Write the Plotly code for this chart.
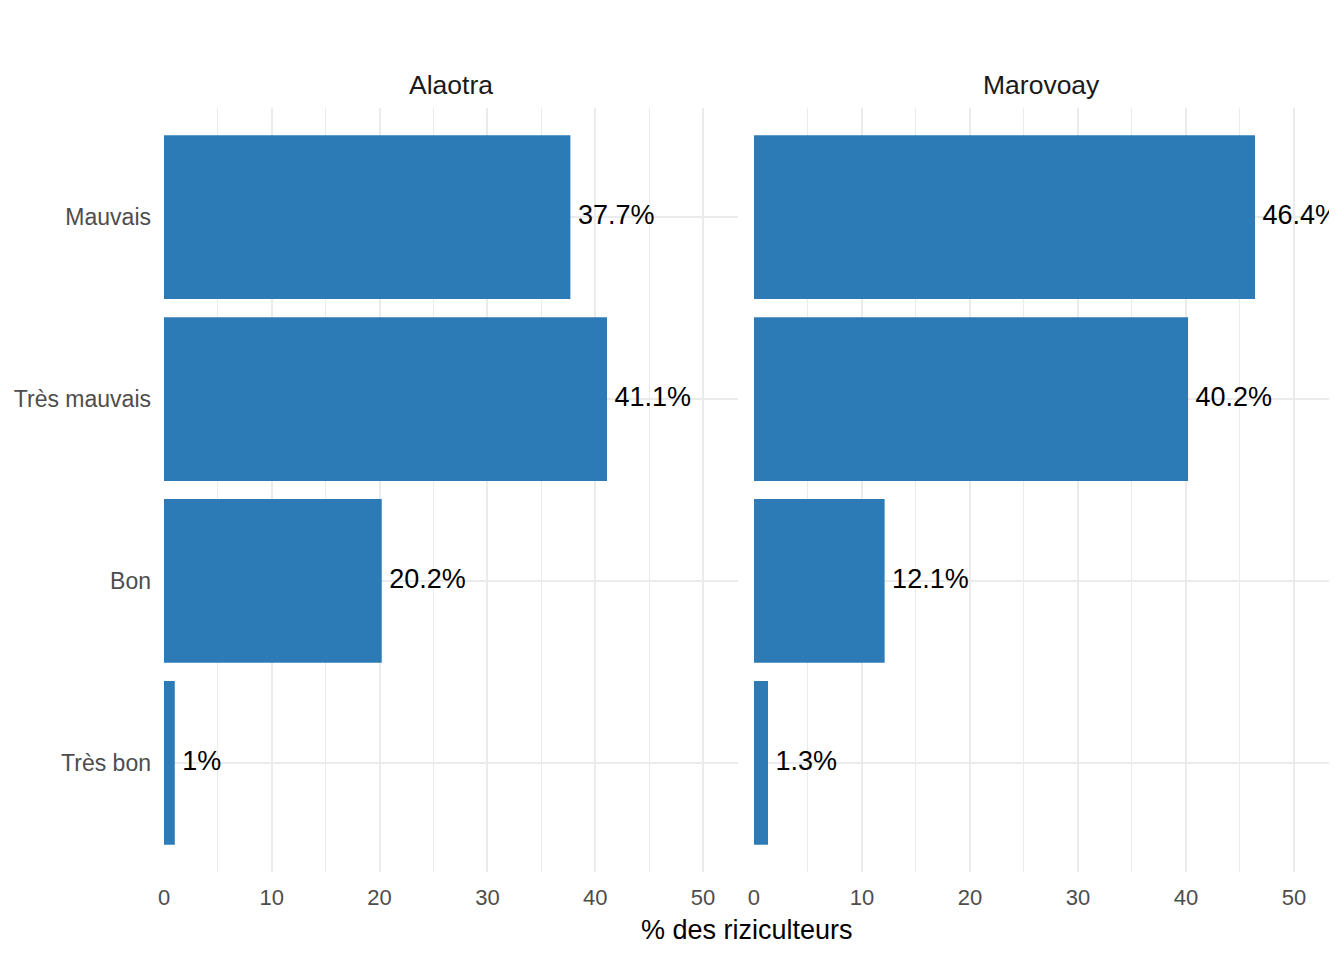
import plotly.graph_objects as go

categories = ["Mauvais", "Très mauvais", "Bon", "Très bon"]
regions = ["Alaotra", "Marovoay"]
alaotra_values = [37.7, 41.1, 20.2, 1.0]
marovoay_values = [46.4, 40.2, 12.1, 1.3]
alaotra_labels = ["37.7%", "41.1%", "20.2%", "1%"]
marovoay_labels = ["46.4%", "40.2%", "12.1%", "1.3%"]
x_ticks = [0, 10, 20, 30, 40, 50]

BAR = "#2C7BB6"
GRID = "#EBEBEB"
FONT = "Liberation Sans, Arial, sans-serif"

fig = go.Figure()
series = [(alaotra_values, alaotra_labels), (marovoay_values, marovoay_labels)]
for i, (vals, labs) in enumerate(series):
    xa = "x" if i == 0 else "x2"
    ya = "y" if i == 0 else "y2"
    fig.add_trace(go.Bar(x=vals, y=categories, orientation="h", width=0.9,
                         marker=dict(color=BAR, line=dict(width=0)),
                         xaxis=xa, yaxis=ya, showlegend=False, hoverinfo="skip"))
    fig.add_trace(go.Scatter(x=vals, y=categories, mode="text",
                             text=["\u00a0" + t for t in labs],
                             textposition="middle right",
                             textfont=dict(size=27, color="black", family=FONT),
                             cliponaxis=True, xaxis=xa, yaxis=ya,
                             showlegend=False, hoverinfo="skip"))

cat_order = list(reversed(categories))
xcommon = dict(range=[0, 53.25], tickvals=x_ticks, showgrid=True, gridcolor=GRID,
               gridwidth=2, zeroline=False, showline=False, ticks="",
               tickfont=dict(size=22, color="#4D4D4D", family=FONT),
               minor=dict(dtick=5, tick0=0, showgrid=True, gridcolor=GRID, gridwidth=1),
               ticklabelstandoff=10, automargin=False)
ycommon = dict(type="category", categoryorder="array", categoryarray=cat_order,
               range=[-0.6, 3.6], showgrid=True, gridcolor=GRID, gridwidth=2,
               zeroline=False, showline=False, ticks="", automargin=False)

fig.update_layout(
    width=1344, height=960,
    margin=dict(l=156, r=23, t=100, b=96),
    paper_bgcolor="white", plot_bgcolor="white",
    font=dict(family=FONT),
    xaxis=dict(domain=[0, 0.4927], anchor="y", **xcommon),
    xaxis2=dict(domain=[0.5064, 1], anchor="y2", **xcommon),
    yaxis=dict(anchor="x", tickfont=dict(size=23, color="#4D4D4D", family=FONT),
               ticklabelstandoff=12, **ycommon),
    yaxis2=dict(anchor="x2", showticklabels=False, **ycommon),
    bargap=0.1,
)

centers = [0.4927 / 2, (0.5064 + 1) / 2]
for c, name in zip(centers, regions):
    fig.add_annotation(text=name, x=c, y=1, xref="paper", yref="paper",
                       yshift=23, xanchor="center", yanchor="middle", showarrow=False,
                       font=dict(size=26.5, color="#1A1A1A", family=FONT))
fig.add_annotation(text="% des riziculteurs", x=0.5, y=0, xref="paper", yref="paper",
                   yshift=-58, xanchor="center", yanchor="middle", showarrow=False,
                   font=dict(size=27, color="black", family=FONT))

fig.write_html("out.html")
